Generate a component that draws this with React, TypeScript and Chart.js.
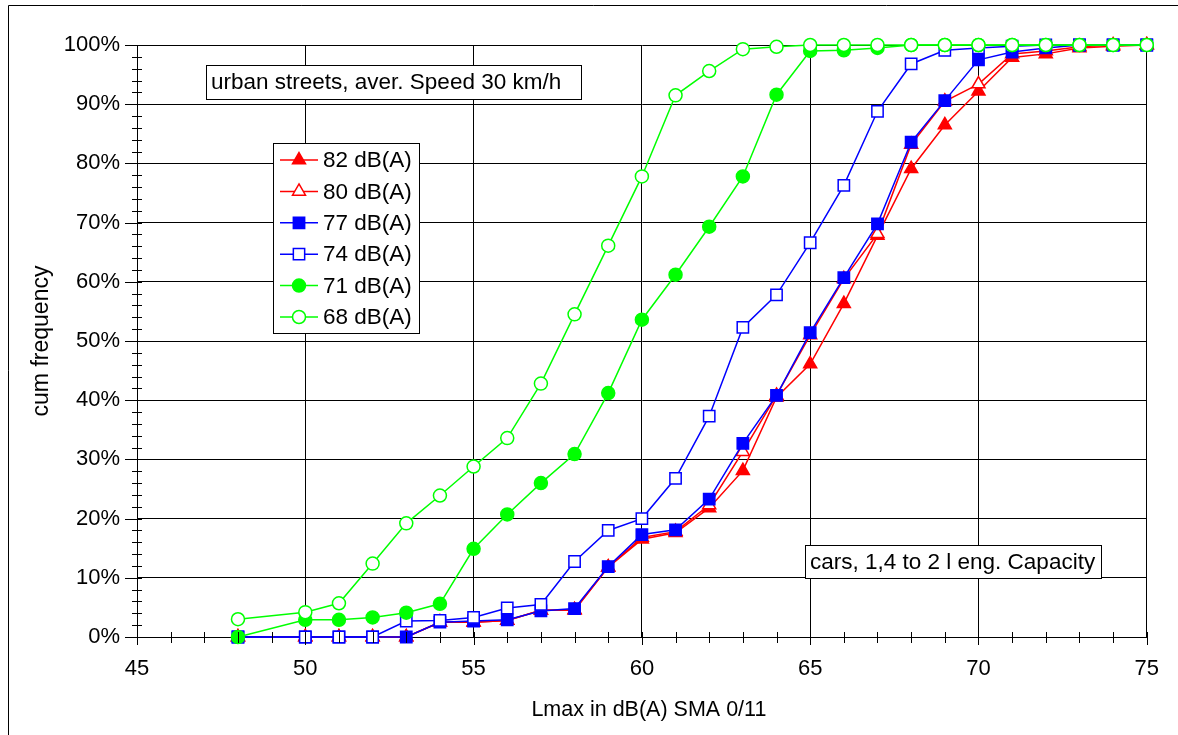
import { useEffect, useRef } from "react";
import { Chart, registerables } from "chart.js";
import { drawPoint } from "chart.js/helpers";

Chart.register(...registerables);

// ---- data ----
const xValues = [48, 50, 51, 52, 53, 54, 55, 56, 57, 58, 59, 60, 61, 62, 63, 64, 65, 66, 67, 68, 69, 70, 71, 72, 73, 74, 75];

const s68 = [3.0, 4.2, 5.7, 12.4, 19.2, 23.9, 28.8, 33.6, 42.8, 54.5, 66.1, 77.8, 91.5, 95.6, 99.3, 99.7, 100, 100, 100, 100, 100, 100, 100, 100, 100, 100, 100];
const s71 = [0, 2.9, 2.9, 3.3, 4.1, 5.6, 14.9, 20.7, 26.0, 30.9, 41.2, 53.6, 61.2, 69.3, 77.8, 91.6, 99.0, 99.1, 99.5, 100, 100, 100, 100, 100, 100, 100, 100];
const s74 = [0, 0, 0, 0, 2.7, 2.8, 3.3, 4.9, 5.5, 12.75, 18.0, 20.0, 26.8, 37.3, 52.3, 57.8, 66.6, 76.3, 88.8, 96.8, 99.1, 99.5, 99.8, 100, 100, 100, 100];
const s77 = [0, 0, 0, 0, 0, 2.5, 2.7, 2.9, 4.4, 4.8, 11.9, 17.3, 18.1, 23.3, 32.7, 40.8, 51.4, 60.7, 69.8, 83.6, 90.6, 97.5, 98.8, 99.5, 100, 100, 100];
const s80 = [0, 0, 0, 0, 0, 2.5, 2.5, 2.8, 4.5, 4.6, 11.8, 16.8, 17.8, 22.3, 31.3, 40.8, 51.0, 60.5, 68.1, 83.2, 90.5, 93.4, 98.5, 99.0, 99.7, 100, 100];
const s82 = [0, 0, 0, 0, 0, 2.5, 2.5, 2.8, 4.5, 4.5, 11.8, 16.5, 17.6, 21.8, 28.1, 40.5, 46.1, 56.3, 67.8, 79.1, 86.5, 92.2, 97.9, 98.5, 99.5, 99.8, 100];

const seriesLabels = ["68 dB(A)", "71 dB(A)", "74 dB(A)", "77 dB(A)", "80 dB(A)", "82 dB(A)"];
const xTitle = "Lmax in dB(A) SMA 0/11";
const yTitle = "cum frequency";
const note1 = "urban streets, aver. Speed 30 km/h";
const note2 = "cars, 1,4 to 2 l eng. Capacity";

// ---- styles ----
const FONT = "'Liberation Sans', Arial, sans-serif";
const RED = "#ff0000";
const BLUE = "#0000ff";
const GREEN = "#00ff00";

const styles = [
  { color: GREEN, pointStyle: "circle", radius: 6.5, open: true },
  { color: GREEN, pointStyle: "circle", radius: 6.5, open: false },
  { color: BLUE, pointStyle: "rect", radius: 8, open: true },
  { color: BLUE, pointStyle: "rect", radius: 8, open: false },
  { color: RED, pointStyle: "triangle", radius: 7.5, open: true },
  { color: RED, pointStyle: "triangle", radius: 7.5, open: false },
];

const decorPlugin = {
  id: "decor",
  beforeDraw(chart: any) {
    const ctx = chart.ctx;
    ctx.save();
    ctx.fillStyle = "#fff";
    ctx.fillRect(0, 0, chart.width, chart.height);
    ctx.strokeStyle = "#000";
    ctx.lineWidth = 1;
    ctx.beginPath();
    ctx.moveTo(8.5, chart.height + 5);
    ctx.lineTo(8.5, 5.5);
    ctx.lineTo(chart.width + 5, 5.5);
    ctx.stroke();
    ctx.restore();
  },
  afterDraw(chart: any) {
    const ctx = chart.ctx;
    const xs = chart.scales.x;
    const ys = chart.scales.y;
    const area = chart.chartArea;
    ctx.save();
    ctx.strokeStyle = "#000";
    ctx.lineWidth = 1;
    // tick marks
    ctx.beginPath();
    for (let v = 45; v <= 75; v += 1) {
      const px = Math.round(xs.getPixelForValue(v)) + 0.5;
      const major = v % 5 === 0;
      ctx.moveTo(px, area.bottom - 5);
      ctx.lineTo(px, area.bottom + (major ? 8 : 6));
    }
    for (let v = 0; v <= 100; v += 2) {
      const py = Math.round(ys.getPixelForValue(v)) + 0.5;
      const major = v % 10 === 0;
      ctx.moveTo(area.left - (major ? 12 : 5), py);
      ctx.lineTo(area.left + 5, py);
    }
    ctx.stroke();

    // x axis title (centred as in the reference)
    ctx.fillStyle = "#000";
    ctx.font = `21.5px ${FONT}`;
    ctx.textBaseline = "middle";
    ctx.textAlign = "center";
    ctx.fillText(xTitle, (area.left + area.right) / 2 + 7, 710);

    // text boxes
    const box = (text: string, x: number, y: number, w: number, h: number) => {
      ctx.fillStyle = "#fff";
      ctx.fillRect(x, y, w, h);
      ctx.strokeStyle = "#000";
      ctx.strokeRect(x + 0.5, y + 0.5, w, h);
      ctx.fillStyle = "#000";
      ctx.font = `22.5px ${FONT}`;
      ctx.textBaseline = "middle";
      ctx.textAlign = "left";
      ctx.fillText(text, x + 5, y + h / 2 + 1);
    };
    box(note1, 206, 65, 375, 34);
    box(note2, 805, 545, 296, 33);

    // legend
    const lx = 273, ly = 143, lw = 146, lh = 190;
    ctx.fillStyle = "#fff";
    ctx.fillRect(lx, ly, lw, lh);
    ctx.strokeStyle = "#000";
    ctx.strokeRect(lx + 0.5, ly + 0.5, lw, lh);
    const ds = chart.data.datasets;
    for (let k = 0; k < ds.length; k++) {
      const i = ds.length - 1 - k;
      const d = ds[i];
      const y = 160 + k * 31.4;
      ctx.strokeStyle = d.borderColor;
      ctx.lineWidth = 1.5;
      ctx.beginPath();
      ctx.moveTo(280, y);
      ctx.lineTo(318, y);
      ctx.stroke();
      ctx.fillStyle = d.pointBackgroundColor;
      ctx.strokeStyle = d.pointBorderColor;
      ctx.lineWidth = d.pointBorderWidth;
      drawPoint(ctx, { pointStyle: d.pointStyle, rotation: 0, radius: d.pointRadius, borderWidth: d.pointBorderWidth }, 299, y);
      ctx.fillStyle = "#000";
      ctx.font = `22.5px ${FONT}`;
      ctx.textBaseline = "middle";
      ctx.textAlign = "left";
      ctx.fillText(d.label, 323, y + 1);
    }
    ctx.restore();
  },
};

export default function App() {
  const ref = useRef<HTMLCanvasElement | null>(null);
  useEffect(() => {
    if (!ref.current) return;
    const seriesValues = [s68, s71, s74, s77, s80, s82];
    const datasets = seriesValues.map((vals, i) => {
      const st = styles[i];
      return {
        label: seriesLabels[i],
        data: xValues.map((x, j) => ({ x, y: vals[j] })),
        borderColor: st.color,
        backgroundColor: st.color,
        borderWidth: 1.5,
        pointStyle: st.pointStyle,
        pointRadius: st.radius,
        pointBackgroundColor: st.open ? "#fff" : st.color,
        pointBorderColor: st.color,
        pointBorderWidth: 1.5,
        tension: 0,
        clip: false as any,
      };
    });
    const chart = new Chart(ref.current, {
      type: "line",
      data: { datasets } as any,
      plugins: [decorPlugin],
      options: {
        animation: false,
        responsive: false,
        devicePixelRatio: 1,
        events: [],
        layout: { padding: { left: 0, right: 28, top: 45, bottom: 0 } },
        plugins: { legend: { display: false }, tooltip: { enabled: false }, title: { display: false } },
        scales: {
          x: {
            type: "linear",
            min: 45,
            max: 75,
            afterFit: (s: any) => { s.height = 98; },
            ticks: { stepSize: 5, color: "#000", font: { family: FONT, size: 22 }, padding: 19, maxRotation: 0 },
            grid: { color: "#000", lineWidth: 1, drawTicks: false },
            border: { display: true, color: "#000", width: 1 },
            title: { display: false },
          },
          y: {
            type: "linear",
            min: 0,
            max: 100,
            afterFit: (s: any) => { s.width = 137; },
            ticks: { stepSize: 10, color: "#000", font: { family: FONT, size: 22 }, padding: 17, callback: (v: any) => `${v}%` },
            grid: { color: "#000", lineWidth: 1, drawTicks: false },
            border: { display: true, color: "#000", width: 1 },
            title: { display: true, text: yTitle, color: "#000", font: { family: FONT, size: 23 }, padding: { top: 28, bottom: 0 } },
          },
        },
      } as any,
    });
    return () => chart.destroy();
  }, []);
  return (
    <div style={{ position: "absolute", left: 0, top: 0, width: 1178, height: 735, background: "#fff" }}>
      <canvas ref={ref} width={1178} height={735} style={{ width: 1178, height: 735, display: "block" }} />
    </div>
  );
}
